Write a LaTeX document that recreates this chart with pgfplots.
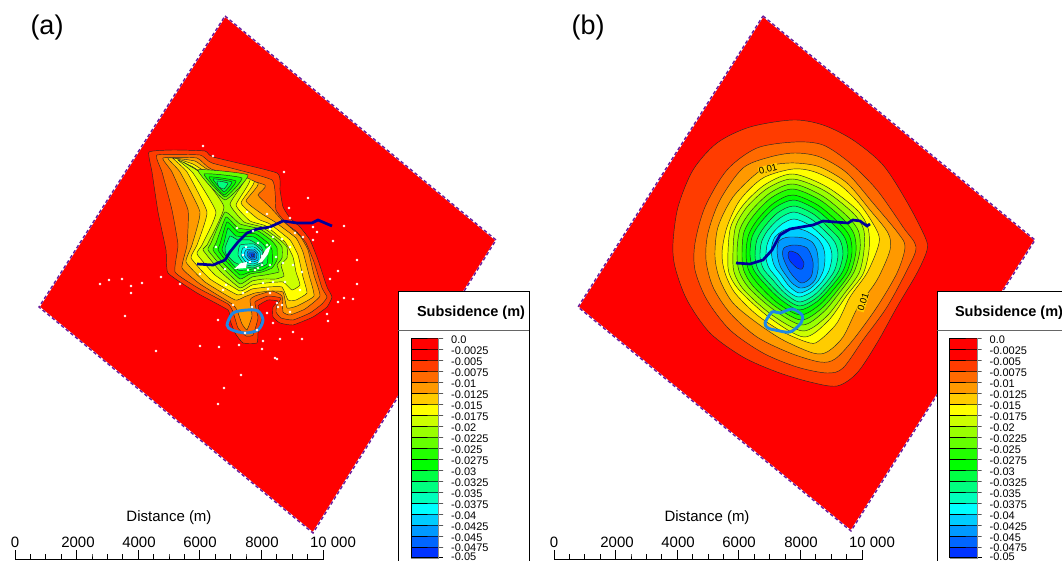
\documentclass[border=0pt]{standalone}
\usepackage{fontspec}
\setmainfont{Liberation Sans}
\usepackage{pgfplots}
\pgfplotsset{compat=1.18}

% colour bands, shallow to deep
\definecolor{c1}{HTML}{FF0000}
\definecolor{c2}{HTML}{FF0000}
\definecolor{c3}{HTML}{FF3C00}
\definecolor{c4}{HTML}{FF6A00}
\definecolor{c5}{HTML}{FF9900}
\definecolor{c6}{HTML}{FFCC00}
\definecolor{c7}{HTML}{FFFF00}
\definecolor{c8}{HTML}{CCFF00}
\definecolor{c9}{HTML}{99FF00}
\definecolor{c10}{HTML}{66FF00}
\definecolor{c11}{HTML}{22FF00}
\definecolor{c12}{HTML}{00FF00}
\definecolor{c13}{HTML}{00FF44}
\definecolor{c14}{HTML}{00FF80}
\definecolor{c15}{HTML}{00FFBB}
\definecolor{c16}{HTML}{00FFFF}
\definecolor{c17}{HTML}{00CCFF}
\definecolor{c18}{HTML}{0099FF}
\definecolor{c19}{HTML}{0066FF}
\definecolor{c20}{HTML}{0033FF}
\definecolor{river}{HTML}{000099}
\definecolor{ring}{HTML}{1E88E5}
\definecolor{border}{HTML}{6A1B9A}

\newcommand{\A}[2]{\addplot[fill=#1,draw=black!85,line width=.45pt,smooth cycle,tension=.25] coordinates {#2};}
\newcommand{\B}[2]{\addplot[fill=#1,draw=black!85,line width=.45pt,smooth cycle] coordinates {#2};}
\newcommand{\LB}[4]{\addplot[fill=#2,draw=none,x filter/.expression={x+#1}] coordinates {(411,#3)(438,#3)(438,#4)(411,#4)} --cycle;}
\newcommand{\LL}[3]{\node[anchor=west,inner sep=0pt,font=\fontsize{11}{11}\selectfont] at (axis cs:#1,#2) {#3};}

\newcommand{\legendpanel}[3]{%
  \LB{#1}{c1}{338}{349}\LB{#1}{c2}{349}{360}\LB{#1}{c3}{360}{371}\LB{#1}{c4}{371}{382}
  \LB{#1}{c5}{382}{393}\LB{#1}{c6}{393}{404}\LB{#1}{c7}{404}{415}\LB{#1}{c8}{415}{426}
  \LB{#1}{c9}{426}{437}\LB{#1}{c10}{437}{448}\LB{#1}{c11}{448}{459}\LB{#1}{c12}{459}{470}
  \LB{#1}{c13}{470}{481}\LB{#1}{c14}{481}{492}\LB{#1}{c15}{492}{503}\LB{#1}{c16}{503}{514}
  \LB{#1}{c17}{514}{525}\LB{#1}{c18}{525}{536}\LB{#1}{c19}{536}{547}\LB{#1}{c20}{547}{557}
  \addplot[black,line width=.6pt,x filter/.expression={x+#1}] coordinates {(411,338)(443,338)(411,338)(411,349)(443,349)(411,349)(411,360)(443,360)(411,360)(411,371)(443,371)(411,371)(411,382)(443,382)(411,382)(411,393)(443,393)(411,393)(411,404)(443,404)(411,404)(411,415)(443,415)(411,415)(411,426)(443,426)(411,426)(411,437)(443,437)(411,437)(411,448)(443,448)(411,448)(411,459)(443,459)(411,459)(411,470)(443,470)(411,470)(411,481)(443,481)(411,481)(411,492)(443,492)(411,492)(411,503)(443,503)(411,503)(411,514)(443,514)(411,514)(411,525)(443,525)(411,525)(411,536)(443,536)(411,536)(411,547)(443,547)(411,547)(411,557)(443,557)};
  \addplot[black!45,line width=.7pt,x filter/.expression={x+#1}] coordinates {(438.5,338)(438.5,558)(411,558)};
  \LL{#2}{340}{0.0}\LL{#2}{351}{-0.0025}\LL{#2}{362}{-0.005}\LL{#2}{373}{-0.0075}
  \LL{#2}{383.5}{-0.01}\LL{#2}{394.5}{-0.0125}\LL{#2}{405.5}{-0.015}\LL{#2}{416.5}{-0.0175}
  \LL{#2}{427.5}{-0.02}\LL{#2}{438.5}{-0.0225}\LL{#2}{449.5}{-0.025}\LL{#2}{460.5}{-0.0275}
  \LL{#2}{471.5}{-0.03}\LL{#2}{482.5}{-0.0325}\LL{#2}{493.5}{-0.035}\LL{#2}{504.5}{-0.0375}
  \LL{#2}{515.5}{-0.04}\LL{#2}{526.5}{-0.0425}\LL{#2}{537.5}{-0.045}\LL{#2}{548}{-0.0475}
  \LL{#2}{556.5}{-0.05}
  \node[font=\fontsize{14.5}{14.5}\selectfont\bfseries] at (axis cs:#3,312.5) {Subsidence (m)};
}

\newcommand{\scalebar}[1]{%
  \addplot[black,line width=.7pt,x filter/.expression={x+#1}] coordinates {(15,550)(15,559)(30.4,559)(30.4,554)(30.4,559)(45.8,559)(45.8,554)(45.8,559)(61.2,559)(61.2,554)(61.2,559)(76.6,559)(76.6,550)(76.6,559)(92,559)(92,554)(92,559)(107.4,559)(107.4,554)(107.4,559)(122.8,559)(122.8,554)(122.8,559)(138.2,559)(138.2,550)(138.2,559)(153.6,559)(153.6,554)(153.6,559)(169,559)(169,554)(169,559)(184.4,559)(184.4,554)(184.4,559)(199.8,559)(199.8,550)(199.8,559)(215.2,559)(215.2,554)(215.2,559)(230.6,559)(230.6,554)(230.6,559)(246,559)(246,554)(246,559)(261.4,559)(261.4,550)(261.4,559)(276.8,559)(276.8,554)(276.8,559)(292.2,559)(292.2,554)(292.2,559)(307.6,559)(307.6,554)(307.6,559)(323,559)(323,550)};
}

\begin{document}
\begin{tikzpicture}
\useasboundingbox (0,0) rectangle (1062pt,561pt);
\begin{axis}[
    at={(0,0)}, anchor=south west,
    scale only axis,
    width=1062pt,
    height=561pt,
    xmin=0, xmax=1062,
    ymin=0, ymax=561,
    y dir=reverse,
    hide axis,
    clip=false,
    every axis plot/.append style={mark=none},
]
% ---- panel (a) model square
\addplot[fill=c1,draw=white,line width=1.4pt] coordinates {(225,16)(496,240)(313,533)(39,307)} --cycle;
\addplot[draw=border,line width=1.4pt,dash pattern=on 3.5pt off 2.5pt] coordinates {(225,16)(496,240)(313,533)(39,307)} --cycle;

\A{c3}{(149,152)(173,150)(205,151)(213,157)(277,173)(280,190)(283,207)(290,218)(300,227)(310,240)(318,260)(327,287)(332,297)(327,307)(313,317)(293,325)(280,323)(273,317)(273,307)(278,301)(268,300)(258,306)(262,317)(258,333)(257,343)(243,343)(235,333)(230,320)(228,310)(197,293)(168,273)(166,250)(158,212)(152,172)}
\A{c4}{(157,155)(200,155)(212,163)(272,180)(276,210)(288,225)(297,232)(306,243)(314,262)(322,288)(327,297)(322,304)(310,313)(293,320)(281,318)(276,312)(277,305)(281,298)(268,296)(255,302)(258,318)(253,335)(246,336)(238,328)(233,312)(228,304)(198,288)(175,272)(178,245)(172,210)(162,172)}
\A{c5}{(163,158)(197,158)(211,169)(265,185)(258,195)(270,207)(283,221)(300,236)(308,250)(314,275)(320,296)(305,309)(290,315)(283,312)(282,296)(272,291)(255,296)(250,300)(252,316)(247,330)(242,324)(237,310)(232,304)(200,284)(182,268)(187,245)(188,210)(172,172)}
\A{c6}{(168,158)(195,161)(209,170)(258,183)(246,201)(262,214)(275,222)(296,238)(303,252)(309,275)(314,296)(297,306)(287,308)(283,292)(270,291)(255,293)(244,297)(235,300)(205,282)(186,262)(192,245)(200,212)(180,172)}
\A{c7}{(173,158)(193,164)(207,172)(254,181)(241,203)(258,219)(270,224)(290,240)(298,255)(303,277)(307,293)(296,300)(288,300)(282,287)(268,287)(252,289)(238,295)(210,279)(191,258)(197,245)(207,212)(187,172)}
\A{c8}{(178,160)(193,167)(205,174)(250,179)(236,205)(250,221)(266,226)(285,242)(293,257)(296,272)(300,285)(292,290)(283,282)(266,283)(252,285)(240,291)(215,275)(197,254)(202,245)(216,212)(193,173)}
\A{c9}{(183,162)(197,170)(203,170)(246,176)(230,204)(244,222)(262,227)(280,240)(287,247)(287,258)(281,265)(284,276)(276,279)(264,279)(252,281)(240,288)(220,271)(203,250)(207,245)(224,207)(199,172)}
% north lobe
\A{c10}{(198,170)(248,175)(225,200)}
\A{c11}{(204,174)(242,178)(225,197)}
\A{c12}{(209,177)(236,181)(224,195)}
\A{c13}{(213,179)(232,182)(224,192)}
\A{c14}{(217,181)(228,183)(224,189)(219,187)}
% central lobe
\A{c10}{(225,212)(240,224)(260,229)(276,240)(282,247)(282,258)(277,265)(279,272)(265,275)(252,277)(240,284)(222,267)(208,250)(211,243)}
\A{c11}{(226,217)(238,228)(258,231)(272,241)(277,248)(277,260)(272,268)(262,272)(250,274)(240,279)(224,264)(213,250)(216,243)}
\A{c12}{(227,222)(238,232)(256,234)(268,243)(272,250)(272,264)(262,270)(250,272)(240,275)(226,261)(218,250)(220,244)}
\A{c13}{(228,228)(236,236)(254,237)(264,245)(268,252)(267,264)(258,268)(246,270)(238,270)(228,259)(222,250)(224,243)}
\A{c14}{(230,236)(238,240)(250,240)(261,247)(264,254)(262,264)(253,268)(243,266)(234,262)(226,254)(225,248)}
\A{c15}{(240,245)(254,244)(262,251)(262,262)(253,266)(244,264)(238,255)}
\A{c16}{(243,248)(254,247)(260,252)(260,261)(253,264)(246,262)(241,255)}
\A{c17}{(246,250)(254,249)(258,253)(258,260)(253,262)(248,260)(244,255)}
\A{c18}{(248,251)(254,251)(257,254)(256,259)(252,260)(249,258)(247,255)}
\A{c19}{(249,253)(254,253)(255,256)(254,258)(251,258)(249,256)}
\A{c20}{(251,254)(253,254)(254,256)(252,257)}

% blanked patches and observation points
\addplot[fill=white,draw=none] coordinates {(234,269)(241,263)(247,262)(246,268)} --cycle;
\addplot[fill=white,draw=none] coordinates {(258,263)(266,249)(271,245)(268,254)(262,262)} --cycle;
\addplot[only marks,mark=*,mark size=1.2pt,white,draw=white] coordinates {
(203,146)(213,156)(284,172)(308,198)(289,208)(247,212)(267,214)(290,218)(313,227)(317,232)(333,241)(344,226)(357,260)
(161,277)(142,283)(131,286)(131,293)(180,284)(218,320)(156,351)(219,347)(239,345)(262,349)(263,341)(280,339)(302,339)
(293,332)(273,323)(327,314)(328,321)(338,302)(344,298)(353,299)(330,279)(338,271)(357,284)(277,359)
(100,284)(109,280)(122,279)(125,316)(218,404)(224,388)(241,375)(275,358)(200,346)
(237,228)(216,247)(253,231)(270,229)(282,239)(295,233)(303,237)(313,240)(290,247)(273,237)(267,245)(276,257)(283,263)
(293,265)(302,272)(285,282)(273,282)(263,283)(268,289)(243,293)(223,290)(226,285)(200,274)(225,269)(233,305)(252,307)
(270,293)(290,312)(300,290)(277,303)(282,305)(278,307)(267,313)(245,333)(257,330)
(243,255)(258,243)(262,265)(248,270)(270,265)(240,265)(255,270)(265,255)(250,262)(258,268)(246,247)(262,256)
};
\addplot[river,line width=2.7pt] coordinates {(197,264)(213,265)(225,260)(230,252)(238,242)(247,233)(257,229)(270,227)(283,221)(297,223)(312,223)(318,220)(325,223)(332,226)};
\addplot[ring,line width=2.9pt,smooth cycle] coordinates {(227,325)(233,313)(247,310)(258,311)(263,320)(258,330)(245,333)(232,330)};

% ---- panel (b) model square
\addplot[fill=c1,draw=white,line width=1.4pt] coordinates {(763,16)(1035,240)(851,531)(578,307)} --cycle;
\addplot[draw=border,line width=1.4pt,dash pattern=on 3.5pt off 2.5pt] coordinates {(763,16)(1035,240)(851,531)(578,307)} --cycle;

\B{c3}{(793,120)(823,125)(853,140)(883,165)(907,202)(925,237)(927,250)(917,273)(897,307)(877,343)(857,373)(837,386)(810,382)(777,372)(743,357)(710,333)(687,300)(675,267)(673,243)(678,207)(693,170)(717,143)(750,127)}
\B{c4}{(795,142)(823,145)(850,163)(877,190)(903,227)(916,247)(907,270)(887,307)(863,340)(843,368)(827,373)(797,367)(763,353)(730,330)(707,300)(695,270)(695,243)(705,207)(727,170)(757,148)}
\B{c5}{(795,153)(820,157)(847,173)(873,203)(898,233)(905,247)(897,273)(877,307)(853,340)(835,359)(820,362)(790,353)(757,337)(730,313)(713,287)(706,260)(708,233)(720,200)(743,168)(770,157)}
\B{c6}{(795,163)(820,167)(847,183)(870,210)(888,233)(890,250)(877,280)(858,307)(843,337)(827,352)(813,353)(783,340)(757,323)(733,303)(720,280)(715,257)(718,227)(733,197)(757,173)(773,165)}
\B{c7}{(793,169)(815,172)(840,185)(862,207)(878,233)(878,247)(867,273)(850,297)(837,323)(820,340)(810,343)(783,332)(757,315)(735,293)(725,273)(722,253)(727,227)(740,200)(763,178)}
\B{c8}{(793,174)(827,187)(857,210)(868,228)(869,250)(863,274)(847,295)(828,321)(804,337)(770,318)(740,291)(729,273)(728,252)(731,226)(744,204)(766,184)}
\B{c9}{(793,179)(825,191)(853,213)(863.5,229)(864,250)(859,273)(844,294)(826,317)(803,331)(772,315)(744,290)(734,272)(733,252)(735.5,227)(747,207)(768,188)}
\B{c10}{(793,184)(822.5,196)(848,217)(858.6,231.5)(860,250)(854,272)(840,292)(823,312.5)(802,325)(774,310)(749,288)(739,271)(737,252)(740,229)(751,211)(770,193)}
\B{c11}{(793,189)(820,200)(844,220)(854,234)(856,251)(850.5,272)(837,291)(821,309)(801,320)(775.5,306.5)(753,286)(743.6,270)(742,253)(744,232)(754,215)(771.7,197.5)}
\B{c12}{(793,195)(817.6,205)(839,223)(849.5,236)(852,252)(847,271.5)(834,289)(818.7,305.5)(800,315)(777.6,303)(758,284)(748.5,270)(746,254)(748.5,235)(758,219)(774,203)}
\B{c13}{(794,200)(816,209.5)(835,226)(845,238)(848,253)(843,271)(831,287)(816.5,302)(799,310)(780,299)(763,282)(753.5,269.5)(750,255)(752,237)(761,222)(776,207)}
\B{c14}{(794,206)(813.3,214)(830,229)(840,240)(843,254)(838.7,271)(828,286)(815,299)(799,306)(782,296)(767,281)(758,269.5)(755,256)(757,239.5)(765,226)(778,212.5)}
\B{c15}{(794,212)(811,219)(826,232)(835,242.5)(838,255)(834.5,270.5)(825,284)(813,296)(799,302)(784.6,293)(772,279)(763.5,269)(760,257)(761.5,242)(768,230)(780,218)}
\B{c16}{(794,219)(808.5,224.5)(821,235)(829,244.5)(832,256)(829,270.5)(821,283)(810.6,292.5)(798,297)(786,289.5)(776,277)(769,268)(766,258)(767,245)(772,234)(782,224)}
\B{c17}{(794,228)(806,231)(817,238)(823,246.7)(825,257)(823.5,270)(818,281)(809.5,289)(799,293)(789,286)(781,275)(775,267)(772,258)(771.7,246.7)(775,237)(783.6,230.5)}
\B{c18}{(794,237)(803.5,238)(812,242)(816.5,249.4)(818,258)(818,270)(815,280)(808.5,286)(800,288)(792,283)(785,274)(780.5,267)(778,259)(777,249.4)(779,241)(785.7,237.5)}
\B{c19}{(794,245)(807,248)(813,262)(811,277)(801,283)(790,272)(783,257)(784,248)}
\B{c20}{(790,251)(798,254)(804,263)(802,269)(797,268)(790,261)(788,255)}

\node[rotate=15,fill=c6,inner sep=.5pt,font=\fontsize{9.5}{9.5}\selectfont] at (axis cs:768,169) {0.01};
\node[rotate=72,fill=c6,inner sep=.5pt,font=\fontsize{9.5}{9.5}\selectfont] at (axis cs:863,302) {0.01};

\addplot[river,line width=2.7pt] coordinates {(736,263)(750,264)(763,260)(772,250)(780,235)(790,229)(813,225)(823,221)(848,223)(853,220)(860,221)(867,226)(870,224)};
\addplot[ring,line width=2.9pt,smooth cycle] coordinates {(765,323)(772,312)(780,313)(792,309)(802,315)(801,323)(790,332)(775,330)(768,328)};

% ---- legend boxes
\addplot[fill=white,draw=black,line width=.6pt] coordinates {(398,561)(398,291)(529,291)(529,561)};
\addplot[black!60,line width=.6pt] coordinates {(398,330)(529,330)};
\addplot[fill=white,draw=black,line width=.6pt] coordinates {(937,561)(937,291)(1062,291)(1062,561)};
\addplot[black!60,line width=.6pt] coordinates {(937,330)(1062,330)};
\legendpanel{0}{451}{471}
\legendpanel{538.5}{989.5}{1009}

% ---- scale bars
\scalebar{0}
\scalebar{539}
\node[font=\fontsize{15}{15}\selectfont] at (axis cs:169,518) {Distance (m)};
\node[font=\fontsize{15}{15}\selectfont] at (axis cs:707,518) {Distance (m)};
\node[font=\fontsize{15}{15}\selectfont] at (axis cs:15,542) {0};
\node[font=\fontsize{15}{15}\selectfont] at (axis cs:78,542) {2000};
\node[font=\fontsize{15}{15}\selectfont] at (axis cs:139,542) {4000};
\node[font=\fontsize{15}{15}\selectfont] at (axis cs:200,542) {6000};
\node[font=\fontsize{15}{15}\selectfont] at (axis cs:262,542) {8000};
\node[font=\fontsize{15}{15}\selectfont] at (axis cs:333,542) {10 000};
\node[font=\fontsize{15}{15}\selectfont] at (axis cs:554,542) {0};
\node[font=\fontsize{15}{15}\selectfont] at (axis cs:617,542) {2000};
\node[font=\fontsize{15}{15}\selectfont] at (axis cs:678,542) {4000};
\node[font=\fontsize{15}{15}\selectfont] at (axis cs:739,542) {6000};
\node[font=\fontsize{15}{15}\selectfont] at (axis cs:801,542) {8000};
\node[font=\fontsize{15}{15}\selectfont] at (axis cs:872,542) {10 000};

\node[font=\fontsize{27}{27}\selectfont] at (axis cs:47,28) {(a)};
\node[font=\fontsize{27}{27}\selectfont] at (axis cs:588,28) {(b)};
\end{axis}
\end{tikzpicture}
\end{document}
